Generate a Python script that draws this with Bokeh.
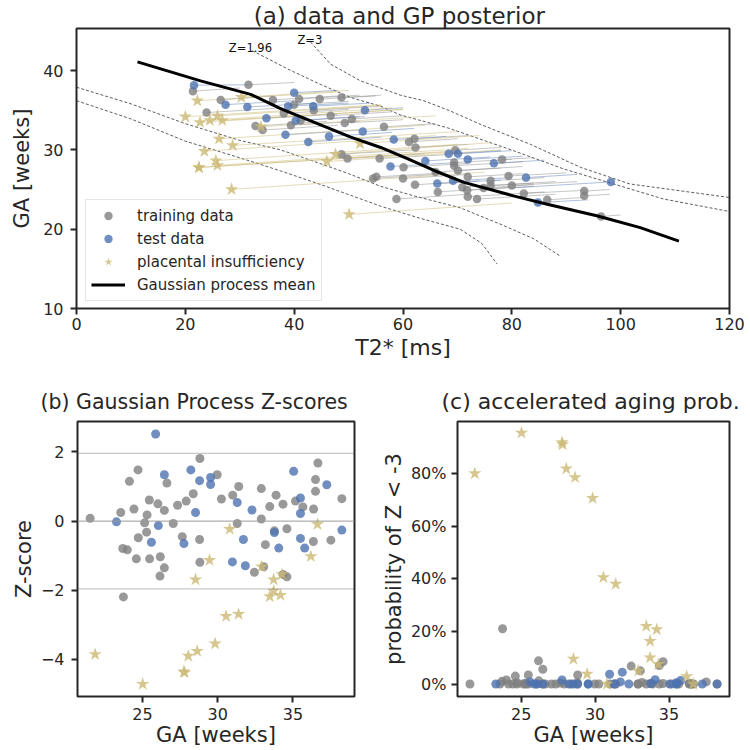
from bokeh.plotting import figure
from bokeh.layouts import column, row
from bokeh.models import (Range1d, Legend, LegendItem, Span, NumeralTickFormatter, FixedTicker)
from bokeh.embed import file_html
from bokeh.resources import INLINE
from bokeh.core.properties import value

FONT = "DejaVu Sans"
INK = "#262626"
GRAY = "#808080"
BLUE = "#4C72B0"
GOLD = "#CCB974"

# ---------------- panel (a) data: T2* [ms] vs GA [weeks] ----------------
train_t2 = [21.4, 31.6, 26.5, 36.1, 40.9, 44.7, 48.7, 40.0, 43.6, 23.9, 38.1, 46.7, 41.2, 49.3,
            50.6, 56.5, 32.9, 34.2, 39.4, 61.1, 62.1, 62.3, 48.7, 49.8, 55.7, 60.1, 55.1, 54.5,
            60.0, 62.2, 58.8, 69.6, 69.4, 69.4, 70.1, 78.2, 66.0, 71.9, 70.9, 71.8, 71.9, 73.6,
            66.4, 76.1, 76.1, 79.4, 80.0, 82.2, 86.5, 93.3, 93.3, 96.4, 74.8]
train_ga = [37.4, 38.2, 36.3, 36.3, 36.4, 36.4, 36.6, 35.7, 35.0, 34.7, 34.6, 34.3, 33.7, 33.4,
            33.9, 32.9, 33.0, 32.5, 33.1, 31.0, 31.4, 30.3, 29.46, 28.9, 28.9, 27.8, 26.6, 26.4,
            26.4, 25.6, 23.8, 29.96, 28.4, 28.0, 27.4, 28.8, 27.2, 26.6, 25.3, 24.9, 24.1, 23.8,
            24.7, 26.1, 25.5, 26.7, 25.5, 24.5, 23.7, 24.8, 24.2, 21.6, 25.2]
train_t2_end = [30, 40, 36, 48, 52, 55, 56, 50, 56, 38, 50, 58, 53, 60,
                60, 66, 46, 48, 52, 70, 72, 72, 62, 64, 68, 72, 68, 66,
                72, 74, 72, 78, 80, 82, 82, 84, 78, 82, 84, 84, 86, 88,
                80, 86, 88, 90, 92, 93.3, 93.3, 98, 98, 100, 84]
train_ga_end = [37.8, 38.5, 36.8, 36.8, 36.9, 36.8, 36.9, 36.1, 35.5, 35.3, 35.1, 34.8, 34.2, 33.8,
                34.3, 33.3, 33.6, 33.1, 33.6, 31.4, 31.8, 30.7, 30.0, 29.5, 29.4, 28.3, 27.1, 26.9,
                26.9, 26.1, 24.4, 30.3, 28.8, 28.5, 27.9, 29.0, 27.7, 27.0, 25.8, 25.4, 24.7, 24.4,
                25.3, 26.5, 26.0, 27.1, 26.0, 24.9, 24.0, 25.0, 24.4, 21.8, 25.6]

test_t2 = [21.6, 27.4, 31.4, 40.0, 38.9, 43.5, 53.0, 34.9, 40.3, 38.4, 42.6, 46.4, 52.6,
           58.3, 57.7, 64.1, 68.4, 70.1, 71.9, 76.7, 66.3, 69.2, 82.6, 84.8, 98.2]
test_ga = [38.16, 35.7, 35.4, 37.2, 35.5, 35.5, 35.0, 34.0, 33.7, 31.9, 31.0, 31.7, 32.3,
           31.3, 27.9, 28.6, 29.5, 29.5, 28.8, 28.3, 25.75, 26.1, 26.5, 23.35, 25.96]
test_t2_end = [31.6, 40, 44, 48, 50, 54, 60, 48, 52, 52, 56, 58, 62,
               68, 70, 76, 78, 80, 82, 86, 78, 80, 92, 94, 80]
test_ga_end = [38.2, 36.2, 35.9, 37.5, 35.9, 35.9, 35.3, 34.5, 34.2, 32.5, 31.6, 32.2, 32.7,
               31.7, 28.4, 29.1, 29.9, 29.9, 29.2, 28.7, 26.2, 26.5, 26.9, 23.7, 25.2]

# placental insufficiency cases (shared across panels)
pi_t2 = [50.1, 28.5, 22.5, 22.5, 25.9, 25.6, 23.5, 28.7, 26.2, 22.7, 20.0, 26.8, 24.5, 25.9,
         46.0, 47.6, 33.9, 52.1, 22.2, 30.3]
pi_ga = [21.86, 25.02, 27.76, 27.80, 28.05, 28.64, 29.83, 30.56, 31.39, 33.46, 34.17, 33.72,
         33.72, 34.28, 28.53, 29.46, 32.92, 30.80, 36.19, 36.63]
pi_t2_end = [80, 75, 68, 70, 72, 70, 66, 70, 64, 60, 56, 60, 58, 56, 78, 76, 66, 74, 48, 50]
pi_ga_end = [23.3, 27.2, 29.8, 29.8, 30.2, 30.7, 31.8, 32.3, 33.1, 35.1, 35.7, 35.1, 35.3, 35.6,
             30.0, 30.9, 34.3, 31.8, 37.3, 37.5]
pi_z = [-3.85, -4.71, -4.35, -4.38, -3.90, -3.76, -3.54, -2.75, -2.69, -2.18, -2.14, -2.02,
        -1.69, -1.54, -1.69, -1.13, -1.32, -0.23, -1.02, -0.09]
pi_prob = [0.80, 0.954, 0.918, 0.910, 0.818, 0.785, 0.706, 0.405, 0.380, 0.220, 0.207, 0.163,
           0.100, 0.075, 0.095, 0.038, 0.050, 0.0, 0.029, 0.0]

# Gaussian process mean and Z contours
gp_t2 = [11.2, 22.8, 32.0, 37.5, 43.6, 50.4, 55.9, 60.8, 65.7, 71.2, 80.3, 86.5, 95.6, 103.6, 110.7]
gp_ga = [41.1, 38.7, 37.0, 35.2, 33.5, 31.6, 30.3, 28.9, 27.4, 25.9, 24.2, 23.15, 21.7, 20.2, 18.5]
zp196_t2 = [32.3, 39.4, 45.0, 50.4, 55.9, 59.5, 68.1, 80.3, 89.5, 98.7, 107.9, 121.0]
zp196_ga = [42.5, 40.0, 38.2, 36.6, 35.5, 34.4, 32.8, 29.9, 27.6, 25.7, 23.8, 22.1]
zp3_t2 = [43.0, 46.7, 52.2, 59.5, 63.8, 68.7, 74.3, 83.4, 92.6, 101.7, 121.0]
zp3_ga = [43.6, 40.8, 38.7, 36.9, 36.2, 34.9, 33.2, 30.7, 27.8, 25.7, 23.9]
zm196_t2 = [0, 10, 20, 30, 37.5, 43, 50, 55.9, 62, 70.5, 78, 84, 88.9]
zm196_ga = [37.9, 35.8, 33.3, 31.2, 30.0, 28.7, 27.0, 25.4, 24.2, 22.7, 20.6, 18.8, 16.6]
zm3_t2 = [0, 10, 20, 30, 37.5, 45, 55.9, 63, 70.5, 74.5, 77.3]
zm3_ga = [36.2, 33.9, 31.1, 29.0, 27.35, 25.6, 22.9, 21.4, 20.0, 18.2, 15.6]
zlabel_text = ["Z=1.96", "Z=3"]
zlabel_t2 = [28.0, 40.6]
zlabel_ga = [42.9, 43.9]

# ---------------- panels (b), (c): GA vs Z-score / probability ----------------
train_ga_b = [21.53, 23.56, 24.14, 24.44, 24.71, 25.46, 25.31, 26.03, 26.63, 26.46, 25.15, 25.28,
              24.73, 23.70, 24.00, 24.60, 25.48, 26.19, 26.46, 27.05, 27.34, 27.65, 27.91, 28.38,
              28.82, 28.80, 28.82, 29.97, 30.25, 31.00, 31.40, 31.30, 32.90, 32.90, 33.17, 33.46,
              33.88, 34.34, 33.77, 34.60, 35.17, 35.66, 36.37, 36.50, 36.50, 36.66, 36.36, 37.52,
              38.25, 26.17, 23.74, 32.44, 33.06, 34.60, 34.34]
train_z = [0.08, 0.25, 1.15, 0.35, 1.48, 0.61, 0.18, 0.50, 1.10, 0.31, -0.05, -0.32,
           -0.48, -0.79, -0.83, -1.09, -1.09, -1.03, -1.35, -0.07, 0.46, -0.45, 0.58, 0.79,
           1.81, -0.53, -1.19, 1.34, 0.64, 0.75, 1.00, -0.07, 0.94, 0.06, -0.68, 0.42,
           0.75, 0.49, -0.28, -0.22, 0.58, 0.41, 0.35, 0.86, 1.20, 1.68, -0.59, -0.55,
           0.65, -1.59, -2.19, -1.48, -1.32, -1.61, -1.54]
train_prob = [0.0, 0.0, 0.0, 0.0, 0.0, 0.0, 0.0, 0.0, 0.0, 0.0, 0.0, 0.003,
              0.005, 0.01, 0.015, 0.03, 0.034, 0.012, 0.056, 0.0, 0.0, 0.004, 0.0, 0.0,
              0.0, 0.005, 0.034, 0.0, 0.0, 0.0, 0.0, 0.0, 0.0, 0.0, 0.006, 0.0,
              0.0, 0.0, 0.002, 0.002, 0.0, 0.0, 0.0, 0.0, 0.0, 0.0, 0.003, 0.008,
              0.0, 0.088, 0.21, 0.068, 0.05, 0.085, 0.07]
test_ga_b = [25.88, 23.28, 26.06, 25.60, 26.46, 28.22, 28.80, 29.53, 29.53, 28.53, 27.76, 31.30,
             32.28, 31.71, 30.98, 31.84, 33.77, 34.06, 35.05, 35.50, 35.50, 35.50, 35.78, 37.25, 38.25]
test_z = [2.52, -0.02, -0.13, -0.61, 1.34, 1.48, 1.17, 1.26, 1.06, 0.25, -0.65, 0.54,
          0.32, -0.53, -1.18, -1.29, -0.33, -0.78, 1.44, 0.67, 0.22, -0.50, -0.78, 1.05, -0.26]
test_prob = [0.0, 0.0, 0.0, 0.008, 0.0, 0.0, 0.0, 0.0, 0.0, 0.0, 0.015, 0.0,
             0.0, 0.008, 0.037, 0.045, 0.002, 0.016, 0.0, 0.0, 0.0, 0.005, 0.013, 0.0, 0.0]
z_ref = [-1.96, 0.0, 1.96]

a_xticks = [0, 20, 40, 60, 80, 100, 120]
a_yticks = [10, 20, 30, 40]
b_yticks = [-4, -2, 0, 2]
ga_ticks = [25, 30, 35]
prob_ticks = [0.0, 0.2, 0.4, 0.6, 0.8]


def style(p, x_tick_std=3, x_lab_std=2, y_tick_std=7, y_lab_std=2, title_size="21px"):
    p.outline_line_color = INK
    p.outline_line_width = 2
    p.outline_line_alpha = 1
    p.xgrid.visible = False
    p.ygrid.visible = False
    p.background_fill_color = "white"
    p.border_fill_color = "white"
    for ax in p.xaxis + p.yaxis:
        ax.axis_line_color = None
        ax.major_tick_out = 6
        ax.major_tick_in = 0
        ax.major_tick_line_width = 2
        ax.major_tick_line_color = INK
        ax.minor_tick_line_color = None
        ax.major_label_text_font = FONT
        ax.major_label_text_font_size = "16px"
        ax.major_label_text_color = INK
        ax.axis_label_text_font = FONT
        ax.axis_label_text_font_size = "21px"
        ax.axis_label_text_font_style = "normal"
        ax.axis_label_text_color = INK
    for ax in p.xaxis:
        ax.major_label_standoff = x_tick_std
        ax.axis_label_standoff = x_lab_std
    for ax in p.yaxis:
        ax.major_label_standoff = y_tick_std
        ax.axis_label_standoff = y_lab_std
    p.title.text_font = FONT
    p.title.text_font_size = title_size
    p.title.text_font_style = "normal"
    p.title.text_color = INK


# ---------------- panel (a) ----------------
p1 = figure(width=750, height=365, output_backend="svg", toolbar_location=None,
            x_range=Range1d(0, 120), y_range=Range1d(10, 45.3),
            min_border_left=76, min_border_right=21, min_border_top=28, min_border_bottom=57,
            title="(a)  data and GP posterior")
style(p1, x_tick_std=3, x_lab_std=2, y_tick_std=7, y_lab_std=6, title_size="23px")
p1.title.align = "center"
p1.title.standoff = 0
p1.xaxis.axis_label = "T2* [ms]"
p1.yaxis.axis_label = "GA [weeks]"
p1.xaxis.axis_label_text_font_size = "22px"
p1.xaxis.ticker = FixedTicker(ticks=a_xticks)
p1.yaxis.ticker = FixedTicker(ticks=a_yticks)

for xs, ys in [(zp196_t2, zp196_ga), (zp3_t2, zp3_ga), (zm196_t2, zm196_ga), (zm3_t2, zm3_ga)]:
    p1.line(xs, ys, line_color="#333333", line_width=0.8, line_dash="3 2")
p1.text(x=zlabel_t2, y=zlabel_ga, text=zlabel_text, text_font=value(FONT),
        text_font_size="11.5px", text_color="#111111", text_align="left", text_baseline="middle")

p1.segment(train_t2, train_ga, train_t2_end, train_ga_end, line_color=GRAY, line_alpha=0.45, line_width=1)
p1.segment(test_t2, test_ga, test_t2_end, test_ga_end, line_color=BLUE, line_alpha=0.45, line_width=1)
p1.segment(pi_t2, pi_ga, pi_t2_end, pi_ga_end, line_color=GOLD, line_alpha=0.5, line_width=1)

r_train = p1.scatter(train_t2, train_ga, marker="circle", size=8.5, fill_color=GRAY,
                     fill_alpha=0.8, line_color=None)
r_test = p1.scatter(test_t2, test_ga, marker="circle", size=8.5, fill_color=BLUE,
                    fill_alpha=0.8, line_color=None)
r_pi = p1.scatter(pi_t2, pi_ga, marker="star", size=14, fill_color=GOLD,
                  fill_alpha=0.8, line_color=None)
r_gp = p1.line(gp_t2, gp_ga, line_color="black", line_width=3)

legend = Legend(items=[LegendItem(label="training data", renderers=[r_train]),
                       LegendItem(label="test data", renderers=[r_test]),
                       LegendItem(label="placental insufficiency", renderers=[r_pi]),
                       LegendItem(label="Gaussian process mean", renderers=[r_gp])],
                location=(9, 7))
legend.label_text_font = FONT
legend.label_text_font_size = "15px"
legend.label_text_color = INK
legend.label_height = 21
legend.glyph_height = 21
legend.glyph_width = 34
legend.spacing = 2
legend.padding = 5
legend.label_standoff = 12
legend.border_line_color = "#cccccc"
legend.border_line_width = 1
legend.background_fill_alpha = 0.85
p1.add_layout(legend)

# ---------------- panel (b) ----------------
p2 = figure(width=378, height=385, output_backend="svg", toolbar_location=None,
            x_range=Range1d(20.69, 39.09), y_range=Range1d(-5.07, 2.88),
            min_border_left=77, min_border_right=24, min_border_top=56, min_border_bottom=54,
            title="(b) Gaussian Process Z-scores")
style(p2, x_tick_std=5, x_lab_std=0, y_tick_std=7, y_lab_std=2, title_size="20.5px")
p2.title.align = "left"
p2.title.offset = -37
p2.title.standoff = 16
p2.xaxis.axis_label = "GA [weeks]"
p2.yaxis.axis_label = "Z-score"
p2.xaxis.ticker = FixedTicker(ticks=ga_ticks)
p2.yaxis.ticker = FixedTicker(ticks=b_yticks)
p2.yaxis.major_label_overrides = {-4: "\u22124", -2: "\u22122", 0: "0", 2: "2"}
for zr in z_ref:
    if zr == 0:
        p2.add_layout(Span(location=zr, dimension="width", line_color="#9a9a9a", line_width=1))
    else:
        p2.add_layout(Span(location=zr, dimension="width", line_color="#555555",
                           line_width=0.8, line_dash="1 1"))
p2.scatter(train_ga_b, train_z, marker="circle", size=9, fill_color=GRAY, fill_alpha=0.8, line_color=None)
p2.scatter(test_ga_b, test_z, marker="circle", size=9, fill_color=BLUE, fill_alpha=0.8, line_color=None)
p2.scatter(pi_ga, pi_z, marker="star", size=14, fill_color=GOLD, fill_alpha=0.8, line_color=None)

# ---------------- panel (c) ----------------
p3 = figure(width=372, height=385, output_backend="svg", toolbar_location=None,
            x_range=Range1d(20.69, 39.09), y_range=Range1d(-0.0475, 0.9975),
            min_border_left=73, min_border_right=21, min_border_top=56, min_border_bottom=54,
            title="(c) accelerated aging prob.")
style(p3, x_tick_std=5, x_lab_std=0, y_tick_std=5, y_lab_std=2, title_size="22px")
p3.title.align = "left"
p3.title.offset = -16
p3.title.standoff = 16
p3.xaxis.axis_label = "GA [weeks]"
p3.yaxis.axis_label = "probability of Z < -3"
p3.xaxis.ticker = FixedTicker(ticks=ga_ticks)
p3.yaxis.ticker = FixedTicker(ticks=prob_ticks)
p3.yaxis.formatter = NumeralTickFormatter(format="0%")
p3.scatter(train_ga_b, train_prob, marker="circle", size=9, fill_color=GRAY, fill_alpha=0.8, line_color=None)
p3.scatter(test_ga_b, test_prob, marker="circle", size=9, fill_color=BLUE, fill_alpha=0.8, line_color=None)
p3.scatter(pi_ga, pi_prob, marker="star", size=14, fill_color=GOLD, fill_alpha=0.8, line_color=None)

layout = column(p1, row(p2, p3))
open("out.html", "w").write(file_html(layout, INLINE))
